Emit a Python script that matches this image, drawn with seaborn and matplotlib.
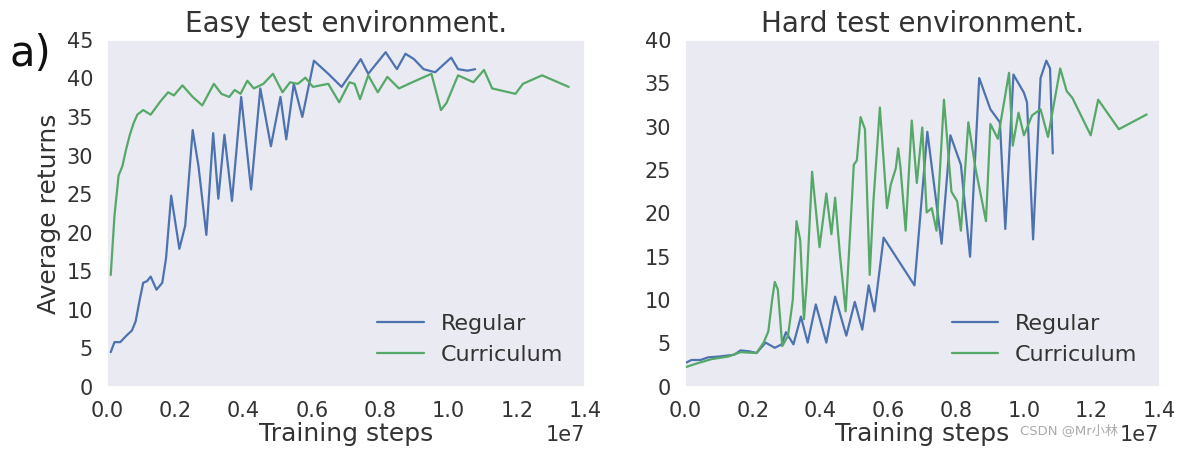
import numpy as np
import pandas as pd
import matplotlib
matplotlib.use("Agg")
import matplotlib.pyplot as plt
import seaborn as sns

# ---------------- data (steps in units of 1e7) ----------------
easy_reg_x = [0.011, 0.022, 0.039, 0.056, 0.073, 0.084, 0.095, 0.106, 0.117, 0.128, 0.145, 0.162,
              0.173, 0.188, 0.212, 0.229, 0.251, 0.268, 0.291, 0.311, 0.326, 0.344, 0.366, 0.393,
              0.422, 0.449, 0.480, 0.508, 0.525, 0.547, 0.572, 0.606, 0.648, 0.687, 0.743, 0.765,
              0.816, 0.849, 0.874, 0.899, 0.927, 0.961, 1.008, 1.028, 1.056, 1.078]
easy_reg_y = [4.5, 5.8, 5.8, 6.6, 7.3, 8.5, 11.1, 13.5, 13.7, 14.3, 12.6, 13.5,
              16.7, 24.8, 17.9, 20.9, 33.3, 28.6, 19.7, 32.9, 24.4, 32.7, 24.1, 37.6,
              25.6, 38.7, 31.2, 37.6, 32.1, 39.3, 35.0, 42.3, 40.6, 38.9, 42.5, 40.6,
              43.4, 41.2, 43.2, 42.5, 41.2, 40.8, 42.7, 41.2, 41.0, 41.2]

easy_cur_x = [0.011, 0.022, 0.034, 0.045, 0.056, 0.067, 0.078, 0.089, 0.106, 0.128, 0.156, 0.179,
              0.196, 0.221, 0.251, 0.279, 0.313, 0.335, 0.358, 0.374, 0.391, 0.411, 0.430, 0.458,
              0.486, 0.514, 0.536, 0.559, 0.581, 0.603, 0.648, 0.680, 0.710, 0.725, 0.741, 0.765,
              0.793, 0.821, 0.855, 0.894, 0.950, 0.978, 0.994, 1.028, 1.073, 1.104, 1.128, 1.196,
              1.218, 1.274, 1.352]
easy_cur_y = [14.5, 22.2, 27.4, 28.6, 30.8, 32.7, 34.2, 35.3, 35.9, 35.3, 37.0, 38.2,
              37.8, 39.1, 37.6, 36.5, 39.3, 38.0, 37.6, 38.5, 38.0, 39.7, 38.7, 39.3,
              40.6, 38.2, 39.5, 39.3, 40.1, 38.9, 39.3, 36.9, 39.5, 39.3, 37.3, 40.4,
              38.2, 40.2, 38.7, 39.5, 40.6, 35.9, 36.8, 40.4, 39.5, 41.1, 38.7, 38.0,
              39.3, 40.4, 38.9]

hard_reg_x = [0.004, 0.019, 0.046, 0.068, 0.101, 0.145, 0.164, 0.189, 0.211, 0.238, 0.265, 0.285,
              0.298, 0.320, 0.342, 0.362, 0.386, 0.417, 0.443, 0.476, 0.501, 0.523, 0.542, 0.559,
              0.586, 0.677, 0.715, 0.757, 0.783, 0.814, 0.841, 0.868, 0.901, 0.929, 0.945, 0.969,
              1.000, 1.009, 1.027, 1.049, 1.066, 1.077, 1.085]
hard_reg_y = [2.8, 3.1, 3.1, 3.4, 3.5, 3.7, 4.2, 4.1, 3.9, 5.1, 4.5, 4.9,
              6.3, 4.9, 8.1, 5.1, 9.5, 5.1, 10.4, 5.9, 9.8, 6.6, 11.7, 8.7,
              17.2, 11.7, 29.4, 16.5, 29.0, 25.6, 15.0, 35.6, 32.0, 30.5, 18.2, 36.0,
              33.9, 32.8, 17.0, 35.6, 37.6, 36.7, 26.9]

hard_cur_x = [0.004, 0.035, 0.079, 0.128, 0.164, 0.211, 0.232, 0.246, 0.257, 0.265, 0.274, 0.287,
              0.304, 0.318, 0.329, 0.340, 0.351, 0.359, 0.375, 0.397, 0.417, 0.432, 0.443, 0.457,
              0.474, 0.487, 0.498, 0.507, 0.518, 0.531, 0.545, 0.556, 0.575, 0.596, 0.607, 0.622,
              0.629, 0.636, 0.651, 0.669, 0.684, 0.700, 0.713, 0.728, 0.742, 0.764, 0.786, 0.803,
              0.814, 0.836, 0.857, 0.888, 0.901, 0.923, 0.956, 0.967, 0.984, 1.000, 1.024, 1.049,
              1.071, 1.107, 1.126, 1.143, 1.197, 1.219, 1.280, 1.362]
hard_cur_y = [2.3, 2.7, 3.2, 3.5, 4.0, 3.9, 5.1, 6.4, 10.0, 12.1, 11.2, 4.7,
              5.9, 10.0, 19.1, 16.9, 7.8, 11.9, 24.8, 16.1, 22.3, 17.6, 21.8, 15.3,
              8.7, 17.6, 25.6, 26.1, 31.1, 29.7, 12.9, 21.4, 32.2, 20.6, 23.3, 25.2,
              27.5, 25.2, 18.0, 30.7, 23.5, 29.9, 20.1, 20.6, 18.0, 33.1, 22.5, 21.4,
              18.0, 30.5, 25.2, 19.1, 30.3, 28.6, 36.2, 27.8, 31.6, 29.0, 31.3, 32.0,
              28.8, 36.7, 34.1, 33.3, 29.0, 33.1, 29.7, 31.4]

series_names = ["Regular", "Curriculum"]
panel_titles = ["Easy test environment.", "Hard test environment."]
x_ticks = [0.0, 0.2, 0.4, 0.6, 0.8, 1.0, 1.2, 1.4]

# ---------------- style ----------------
sns.set_theme(style="dark")
plt.rcParams["font.family"] = ["DejaVu Sans", "Noto Sans CJK SC"]
colors = ["#4C72B0", "#55A868"]
txt = "#333333"


def make_df(rx, ry, cx, cy):
    a = pd.DataFrame({"steps": np.array(rx) * 1e7, "ret": ry, "series": series_names[0]})
    b = pd.DataFrame({"steps": np.array(cx) * 1e7, "ret": cy, "series": series_names[1]})
    return pd.concat([a, b], ignore_index=True)


fig = plt.figure(figsize=(11.82, 4.53), dpi=100)
ax1 = fig.add_axes([0.0905, 0.146, 0.4045, 0.766])
ax2 = fig.add_axes([0.5795, 0.146, 0.4015, 0.766])

dfs = [make_df(easy_reg_x, easy_reg_y, easy_cur_x, easy_cur_y),
       make_df(hard_reg_x, hard_reg_y, hard_cur_x, hard_cur_y)]
ylims = [(0, 45), (0, 40)]

for ax, df, title, yl in zip([ax1, ax2], dfs, panel_titles, ylims):
    sns.lineplot(data=df, x="steps", y="ret", hue="series", palette=colors,
                 linewidth=1.6, ax=ax, sort=False, estimator=None)
    ax.set_xlim(0, 1.4e7)
    ax.set_ylim(*yl)
    ax.set_xticks(np.array(x_ticks) * 1e7)
    ax.ticklabel_format(axis="x", style="sci", scilimits=(0, 0), useMathText=False)
    ax.xaxis.get_offset_text().set_fontsize(15)
    ax.xaxis.get_offset_text().set_color(txt)
    ax.tick_params(axis="both", labelsize=15, colors=txt, pad=4)
    ax.set_title(title, fontsize=20, color=txt, pad=6)
    ax.set_xlabel("Training steps", fontsize=18, color=txt, labelpad=1)
    ax.set_ylabel("")
    leg = ax.legend(loc="lower right", frameon=False, fontsize=16,
                    handlelength=2.1, handletextpad=0.75, borderaxespad=0.6,
                    labelspacing=0.5)
    for t in leg.get_texts():
        t.set_color(txt)
    for line in leg.get_lines():
        line.set_linewidth(1.6)

ax1.set_yticks(range(0, 46, 5))
ax2.set_yticks(range(0, 41, 5))
ax1.set_ylabel("Average returns", fontsize=18, color=txt, labelpad=4)

fig.text(0.008, 0.88, "a)", fontsize=30, color="#111111", ha="left", va="center")
fig.text(1118 / 1182, 0.05, "CSDN @Mr小林", fontsize=9.5, color="#aaaaaa",
         ha="right", va="center", family=["DejaVu Sans", "Noto Sans CJK SC"])

fig.savefig("out.png", dpi=100)
